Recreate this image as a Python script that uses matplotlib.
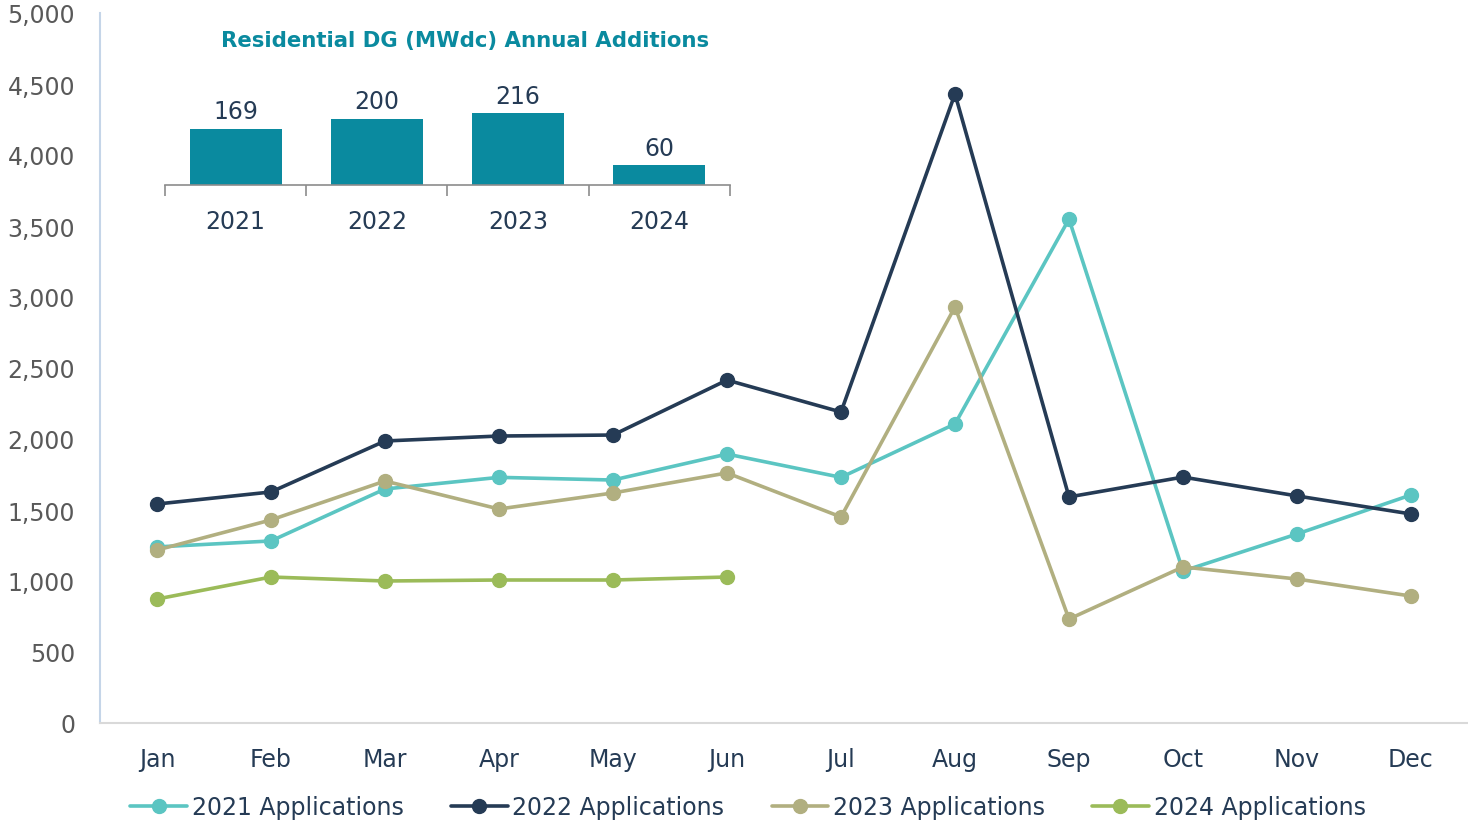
import matplotlib.pyplot as plt
from matplotlib.ticker import FuncFormatter, FixedLocator

# monthly applications
months = ["Jan", "Feb", "Mar", "Apr", "May", "Jun",
          "Jul", "Aug", "Sep", "Oct", "Nov", "Dec"]
apps_2021 = [1240, 1282, 1648, 1730, 1711, 1894, 1730, 2106, 3549, 1070, 1331, 1606]
apps_2022 = [1542, 1627, 1986, 2021, 2028, 2415, 2190, 4430, 1592, 1732, 1599, 1472]
apps_2023 = [1218, 1430, 1704, 1507, 1620, 1761, 1451, 2930, 732, 1099, 1014, 894]
apps_2024 = [873, 1028, 1000, 1007, 1007, 1028]

# annual additions (inset)
years = ["2021", "2022", "2023", "2024"]
additions = [169, 200, 216, 60]

series_labels = ["2021 Applications", "2022 Applications",
                 "2023 Applications", "2024 Applications"]
colors = ["#5BC5C2", "#253B55", "#B1AF80", "#9BBB59"]
navy = "#253B55"
teal = "#0A8A9F"

plt.rcParams['font.family'] = ['DejaVu Sans']

fig = plt.figure(figsize=(14.68, 8.28), dpi=100)
ax = fig.add_axes([100 / 1468, 104 / 828, 1368 / 1468, 710 / 828])

x = list(range(len(months)))
all_series = [apps_2021, apps_2022, apps_2023, apps_2024]
for vals, lab, col in zip(all_series, series_labels, colors):
    ax.plot(x[:len(vals)], vals, color=col, lw=2.6, marker='o',
            markersize=10, label=lab, solid_capstyle='round')

ax.set_xlim(-0.5, 11.5)
ax.set_ylim(0, 5000)
ax.yaxis.set_major_locator(FixedLocator(range(0, 5001, 500)))
ax.yaxis.set_major_formatter(FuncFormatter(lambda v, p: "{:,}".format(int(v))))
ax.set_xticks(x)
ax.set_xticklabels(months)
ax.tick_params(axis='y', length=0, labelsize=17, labelcolor="#595959", pad=18)
ax.tick_params(axis='x', length=0, labelsize=17, labelcolor=navy, pad=17)
for s in ['top', 'right']:
    ax.spines[s].set_visible(False)
ax.spines['left'].set_color("#C5D5E8")
ax.spines['left'].set_linewidth(1.5)
ax.spines['bottom'].set_color("#D9D9D9")
ax.spines['bottom'].set_linewidth(1.5)

fig.legend(loc='center', bbox_to_anchor=(748 / 1468, 1 - 808 / 828), ncol=4,
           frameon=False, fontsize=17, handlelength=2.4, handletextpad=0.2,
           columnspacing=2.0, labelcolor=navy)

# inset bar chart
ins = fig.add_axes([165 / 1468, 1 - 186 / 828, 565 / 1468, 126 / 828])
bx = list(range(len(years)))
ins.bar(bx, additions, width=0.65, color=teal)
ins.set_xlim(-0.5, 3.5)
ins.set_ylim(0, 380)
ins.set_yticks([])
ins.set_xticks(bx)
ins.set_xticklabels(years)
ins.set_xticks([-0.5, 0.5, 1.5, 2.5, 3.5], minor=True)
ins.tick_params(axis='x', which='major', length=0, labelsize=17,
                labelcolor=navy, pad=17)
ins.tick_params(axis='x', which='minor', length=8, color="#8C8C8C", width=1.2)
for s in ['top', 'right', 'left']:
    ins.spines[s].set_visible(False)
ins.spines['bottom'].set_color("#8C8C8C")
ins.spines['bottom'].set_linewidth(1.2)
ins.patch.set_alpha(0)
for xi, v in zip(bx, additions):
    ins.annotate(str(v), (xi, v), xytext=(0, 4), textcoords='offset points',
                 ha='center', va='bottom', fontsize=17, color=navy)

fig.text(465 / 1468, 1 - 41 / 828, "Residential DG (MWdc) Annual Additions",
         ha='center', va='center', fontsize=15.3, fontweight='bold', color=teal)

fig.savefig("out.png", dpi=100)
